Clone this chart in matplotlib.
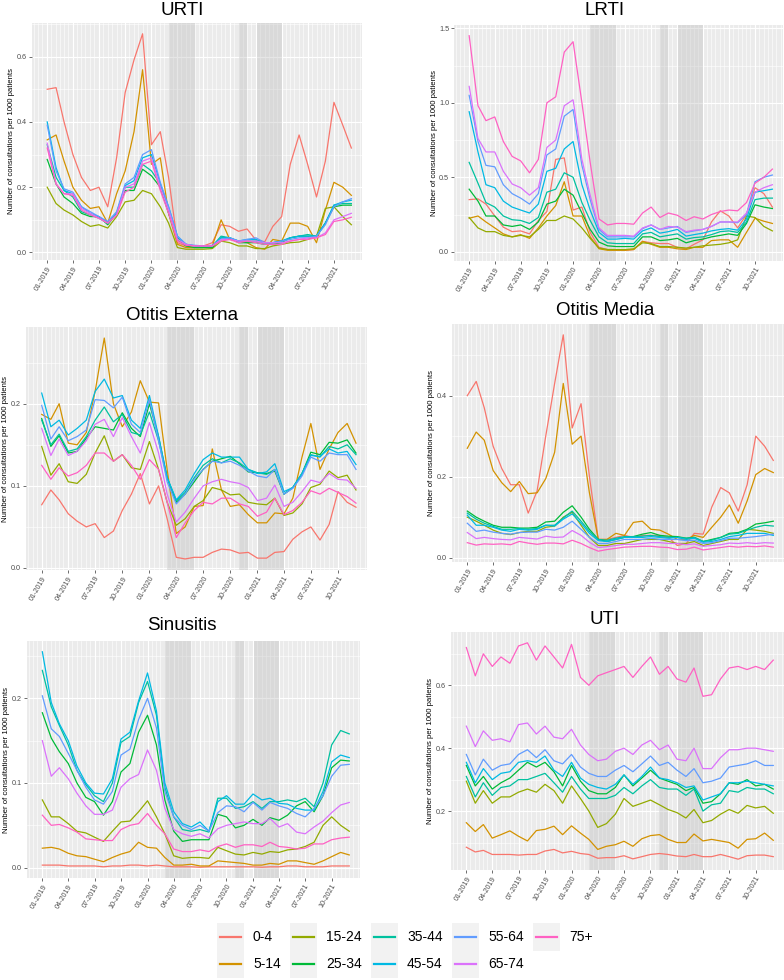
"""Monthly consultation rates by age group, six infection types, with lockdown shading."""
import numpy as np
import pandas as pd
import matplotlib
matplotlib.use('Agg')
from matplotlib import pyplot as plt
import matplotlib.dates as mdates
from matplotlib.ticker import MultipleLocator, FormatStrFormatter, FixedLocator
from matplotlib.patches import Rectangle
from matplotlib.lines import Line2D

plt.rcParams['font.family'] = ['Liberation Sans', 'DejaVu Sans']

# Data (consultations per 1000 patients), Jan 2019 - Dec 2021
months = pd.date_range('2019-01-01', '2021-12-01', freq='MS')
age_groups = ['0-4', '5-14', '15-24', '25-34', '35-44', '45-54', '55-64', '65-74', '75+']
colours = ['#F8766D', '#D39200', '#93AA00', '#00BA38', '#00C19F',
           '#00B9E3', '#619CFF', '#DB72FB', '#FF61C3']
lockdowns = [('2020-03-01', '2020-06-01'), ('2020-11-01', '2020-12-01'),
             ('2021-01-03', '2021-04-01')]

urti = [
    [0.50, 0.505, 0.40, 0.30, 0.23, 0.19, 0.20, 0.14, 0.29, 0.49, 0.59, 0.67, 0.33, 0.37, 0.23, 0.03, 0.02, 0.02, 0.02, 0.03, 0.085, 0.08, 0.065, 0.072, 0.038, 0.033, 0.08, 0.11, 0.27, 0.36, 0.27, 0.17, 0.28, 0.46, 0.39, 0.32],
    [0.345, 0.36, 0.28, 0.20, 0.16, 0.135, 0.14, 0.09, 0.18, 0.25, 0.37, 0.56, 0.27, 0.29, 0.12, 0.025, 0.015, 0.015, 0.015, 0.02, 0.10, 0.04, 0.035, 0.03, 0.015, 0.01, 0.04, 0.035, 0.09, 0.09, 0.08, 0.03, 0.13, 0.215, 0.20, 0.175],
    [0.20, 0.15, 0.13, 0.115, 0.095, 0.08, 0.085, 0.075, 0.11, 0.155, 0.16, 0.19, 0.18, 0.14, 0.09, 0.015, 0.01, 0.01, 0.01, 0.012, 0.035, 0.03, 0.02, 0.02, 0.012, 0.012, 0.02, 0.025, 0.03, 0.032, 0.04, 0.05, 0.135, 0.14, 0.11, 0.085],
    [0.285, 0.21, 0.17, 0.15, 0.12, 0.11, 0.11, 0.085, 0.12, 0.19, 0.19, 0.255, 0.235, 0.20, 0.12, 0.04, 0.02, 0.015, 0.015, 0.015, 0.045, 0.045, 0.03, 0.03, 0.03, 0.025, 0.025, 0.03, 0.045, 0.05, 0.05, 0.05, 0.09, 0.14, 0.145, 0.145],
    [0.33, 0.23, 0.19, 0.17, 0.125, 0.115, 0.105, 0.09, 0.12, 0.20, 0.20, 0.27, 0.25, 0.21, 0.13, 0.045, 0.025, 0.02, 0.02, 0.02, 0.05, 0.045, 0.035, 0.035, 0.035, 0.03, 0.03, 0.035, 0.045, 0.05, 0.055, 0.05, 0.09, 0.145, 0.15, 0.15],
    [0.40, 0.26, 0.19, 0.18, 0.14, 0.12, 0.11, 0.09, 0.12, 0.205, 0.22, 0.29, 0.30, 0.21, 0.14, 0.05, 0.025, 0.02, 0.02, 0.02, 0.045, 0.045, 0.035, 0.04, 0.04, 0.03, 0.03, 0.035, 0.045, 0.05, 0.05, 0.05, 0.09, 0.145, 0.155, 0.16],
    [0.39, 0.25, 0.195, 0.185, 0.14, 0.125, 0.11, 0.095, 0.125, 0.21, 0.23, 0.30, 0.315, 0.215, 0.14, 0.05, 0.025, 0.022, 0.02, 0.022, 0.04, 0.045, 0.035, 0.04, 0.045, 0.03, 0.03, 0.035, 0.04, 0.045, 0.045, 0.05, 0.085, 0.14, 0.155, 0.165],
    [0.335, 0.21, 0.18, 0.18, 0.135, 0.12, 0.105, 0.09, 0.115, 0.20, 0.21, 0.28, 0.29, 0.20, 0.13, 0.04, 0.025, 0.02, 0.02, 0.02, 0.04, 0.04, 0.035, 0.035, 0.035, 0.03, 0.03, 0.03, 0.035, 0.04, 0.045, 0.045, 0.06, 0.10, 0.11, 0.12],
    [0.32, 0.21, 0.18, 0.175, 0.13, 0.115, 0.105, 0.09, 0.115, 0.185, 0.20, 0.27, 0.28, 0.19, 0.12, 0.035, 0.022, 0.02, 0.02, 0.02, 0.035, 0.04, 0.03, 0.035, 0.03, 0.025, 0.025, 0.025, 0.035, 0.04, 0.04, 0.045, 0.055, 0.095, 0.10, 0.108],
]

lrti = [
    [0.35, 0.355, 0.32, 0.24, 0.165, 0.135, 0.14, 0.12, 0.21, 0.27, 0.62, 0.63, 0.28, 0.30, 0.13, 0.03, 0.015, 0.01, 0.01, 0.015, 0.07, 0.06, 0.055, 0.055, 0.03, 0.02, 0.05, 0.08, 0.20, 0.275, 0.24, 0.16, 0.25, 0.43, 0.39, 0.30],
    [0.225, 0.24, 0.20, 0.16, 0.12, 0.10, 0.115, 0.09, 0.16, 0.24, 0.31, 0.47, 0.24, 0.24, 0.10, 0.02, 0.01, 0.01, 0.01, 0.015, 0.07, 0.05, 0.03, 0.03, 0.02, 0.015, 0.03, 0.03, 0.075, 0.08, 0.08, 0.03, 0.13, 0.225, 0.205, 0.19],
    [0.23, 0.16, 0.135, 0.135, 0.11, 0.10, 0.11, 0.10, 0.15, 0.21, 0.21, 0.24, 0.22, 0.16, 0.09, 0.025, 0.015, 0.015, 0.015, 0.02, 0.06, 0.055, 0.035, 0.035, 0.03, 0.025, 0.03, 0.04, 0.045, 0.05, 0.06, 0.08, 0.24, 0.23, 0.17, 0.14],
    [0.42, 0.34, 0.24, 0.24, 0.18, 0.17, 0.18, 0.15, 0.20, 0.32, 0.34, 0.42, 0.38, 0.26, 0.15, 0.065, 0.04, 0.035, 0.035, 0.035, 0.10, 0.10, 0.075, 0.08, 0.09, 0.06, 0.075, 0.085, 0.10, 0.11, 0.12, 0.11, 0.19, 0.315, 0.30, 0.29],
    [0.60, 0.46, 0.33, 0.30, 0.24, 0.215, 0.21, 0.19, 0.23, 0.40, 0.42, 0.53, 0.50, 0.33, 0.21, 0.10, 0.06, 0.055, 0.055, 0.055, 0.12, 0.13, 0.10, 0.11, 0.12, 0.085, 0.095, 0.10, 0.115, 0.135, 0.14, 0.13, 0.20, 0.35, 0.36, 0.36],
    [0.94, 0.67, 0.45, 0.43, 0.34, 0.30, 0.28, 0.26, 0.32, 0.54, 0.56, 0.69, 0.74, 0.45, 0.28, 0.13, 0.085, 0.085, 0.09, 0.085, 0.14, 0.16, 0.125, 0.135, 0.15, 0.105, 0.115, 0.125, 0.14, 0.15, 0.155, 0.145, 0.22, 0.40, 0.41, 0.42],
    [1.05, 0.74, 0.58, 0.57, 0.45, 0.39, 0.36, 0.32, 0.39, 0.65, 0.69, 0.91, 0.955, 0.58, 0.35, 0.15, 0.10, 0.10, 0.10, 0.10, 0.155, 0.18, 0.15, 0.16, 0.17, 0.13, 0.14, 0.15, 0.17, 0.20, 0.20, 0.195, 0.25, 0.47, 0.50, 0.515],
    [1.11, 0.76, 0.67, 0.67, 0.54, 0.455, 0.43, 0.38, 0.43, 0.70, 0.75, 0.98, 1.02, 0.62, 0.38, 0.16, 0.11, 0.11, 0.11, 0.105, 0.16, 0.18, 0.15, 0.17, 0.165, 0.135, 0.145, 0.15, 0.17, 0.20, 0.20, 0.20, 0.26, 0.40, 0.43, 0.45],
    [1.45, 0.98, 0.88, 0.905, 0.74, 0.64, 0.61, 0.53, 0.62, 1.00, 1.04, 1.34, 1.41, 1.00, 0.60, 0.22, 0.18, 0.19, 0.19, 0.185, 0.26, 0.30, 0.23, 0.26, 0.245, 0.21, 0.235, 0.22, 0.25, 0.27, 0.28, 0.275, 0.33, 0.46, 0.50, 0.555],
]

otitis_externa = [
    [0.077, 0.095, 0.083, 0.066, 0.057, 0.050, 0.054, 0.037, 0.045, 0.070, 0.090, 0.115, 0.078, 0.100, 0.060, 0.013, 0.011, 0.013, 0.013, 0.019, 0.023, 0.022, 0.018, 0.019, 0.012, 0.012, 0.019, 0.020, 0.035, 0.044, 0.050, 0.034, 0.053, 0.093, 0.080, 0.074],
    [0.187, 0.181, 0.200, 0.152, 0.150, 0.165, 0.215, 0.280, 0.200, 0.172, 0.190, 0.228, 0.202, 0.201, 0.120, 0.042, 0.050, 0.075, 0.076, 0.145, 0.095, 0.075, 0.077, 0.065, 0.055, 0.055, 0.067, 0.066, 0.085, 0.135, 0.176, 0.120, 0.145, 0.165, 0.176, 0.152],
    [0.148, 0.113, 0.127, 0.105, 0.103, 0.114, 0.140, 0.161, 0.130, 0.138, 0.122, 0.120, 0.154, 0.120, 0.080, 0.052, 0.060, 0.075, 0.082, 0.098, 0.095, 0.089, 0.090, 0.080, 0.078, 0.077, 0.085, 0.064, 0.067, 0.078, 0.098, 0.102, 0.118, 0.110, 0.113, 0.095],
    [0.182, 0.148, 0.161, 0.140, 0.142, 0.158, 0.172, 0.170, 0.168, 0.189, 0.170, 0.160, 0.200, 0.160, 0.110, 0.080, 0.090, 0.105, 0.120, 0.130, 0.133, 0.136, 0.127, 0.117, 0.116, 0.115, 0.118, 0.090, 0.098, 0.115, 0.141, 0.138, 0.153, 0.152, 0.156, 0.140],
    [0.180, 0.150, 0.163, 0.142, 0.145, 0.160, 0.180, 0.196, 0.178, 0.187, 0.165, 0.162, 0.190, 0.155, 0.110, 0.082, 0.092, 0.110, 0.125, 0.133, 0.128, 0.133, 0.128, 0.120, 0.116, 0.114, 0.120, 0.090, 0.098, 0.115, 0.138, 0.135, 0.148, 0.145, 0.150, 0.138],
    [0.213, 0.172, 0.180, 0.162, 0.170, 0.180, 0.215, 0.230, 0.207, 0.210, 0.180, 0.170, 0.210, 0.160, 0.110, 0.083, 0.095, 0.115, 0.132, 0.140, 0.135, 0.135, 0.135, 0.120, 0.115, 0.117, 0.127, 0.093, 0.098, 0.115, 0.137, 0.136, 0.145, 0.140, 0.142, 0.126],
    [0.198, 0.157, 0.172, 0.155, 0.160, 0.168, 0.205, 0.204, 0.195, 0.208, 0.175, 0.165, 0.205, 0.155, 0.105, 0.078, 0.090, 0.108, 0.120, 0.130, 0.128, 0.130, 0.125, 0.118, 0.112, 0.110, 0.120, 0.090, 0.097, 0.112, 0.135, 0.130, 0.140, 0.138, 0.138, 0.120],
    [0.170, 0.137, 0.157, 0.137, 0.142, 0.155, 0.175, 0.181, 0.160, 0.183, 0.160, 0.140, 0.177, 0.140, 0.090, 0.056, 0.068, 0.085, 0.100, 0.105, 0.108, 0.105, 0.103, 0.098, 0.082, 0.085, 0.101, 0.075, 0.080, 0.093, 0.107, 0.104, 0.115, 0.108, 0.107, 0.097],
    [0.125, 0.108, 0.122, 0.112, 0.116, 0.125, 0.140, 0.140, 0.130, 0.138, 0.125, 0.108, 0.132, 0.120, 0.080, 0.037, 0.055, 0.070, 0.080, 0.078, 0.085, 0.085, 0.078, 0.075, 0.063, 0.068, 0.085, 0.065, 0.070, 0.080, 0.094, 0.090, 0.097, 0.092, 0.087, 0.079],
]

otitis_media = [
    [0.40, 0.435, 0.37, 0.275, 0.22, 0.18, 0.18, 0.11, 0.165, 0.30, 0.43, 0.55, 0.32, 0.38, 0.20, 0.045, 0.045, 0.05, 0.055, 0.05, 0.055, 0.055, 0.055, 0.05, 0.03, 0.035, 0.06, 0.058, 0.125, 0.173, 0.16, 0.115, 0.18, 0.30, 0.275, 0.24],
    [0.27, 0.31, 0.29, 0.215, 0.185, 0.163, 0.188, 0.158, 0.16, 0.195, 0.26, 0.43, 0.28, 0.30, 0.16, 0.045, 0.045, 0.06, 0.055, 0.087, 0.09, 0.07, 0.068, 0.058, 0.045, 0.045, 0.055, 0.05, 0.075, 0.10, 0.13, 0.085, 0.14, 0.205, 0.22, 0.21],
    [0.10, 0.09, 0.08, 0.068, 0.06, 0.057, 0.062, 0.065, 0.065, 0.075, 0.078, 0.10, 0.112, 0.08, 0.05, 0.03, 0.03, 0.035, 0.035, 0.04, 0.045, 0.045, 0.045, 0.04, 0.035, 0.035, 0.04, 0.03, 0.035, 0.04, 0.045, 0.045, 0.07, 0.068, 0.065, 0.06],
    [0.115, 0.10, 0.09, 0.08, 0.075, 0.075, 0.073, 0.073, 0.075, 0.088, 0.09, 0.112, 0.128, 0.10, 0.07, 0.045, 0.04, 0.045, 0.05, 0.052, 0.058, 0.062, 0.055, 0.053, 0.052, 0.048, 0.05, 0.04, 0.045, 0.05, 0.06, 0.062, 0.07, 0.083, 0.086, 0.09],
    [0.11, 0.095, 0.085, 0.077, 0.07, 0.07, 0.072, 0.07, 0.072, 0.08, 0.08, 0.098, 0.115, 0.09, 0.065, 0.045, 0.043, 0.048, 0.052, 0.052, 0.053, 0.055, 0.052, 0.05, 0.05, 0.048, 0.05, 0.04, 0.043, 0.05, 0.058, 0.06, 0.068, 0.075, 0.08, 0.078],
    [0.105, 0.08, 0.08, 0.075, 0.068, 0.065, 0.07, 0.068, 0.07, 0.08, 0.078, 0.095, 0.108, 0.085, 0.06, 0.042, 0.04, 0.045, 0.05, 0.05, 0.05, 0.052, 0.05, 0.048, 0.05, 0.045, 0.048, 0.038, 0.04, 0.045, 0.052, 0.055, 0.06, 0.06, 0.06, 0.055],
    [0.085, 0.065, 0.068, 0.063, 0.06, 0.058, 0.062, 0.063, 0.063, 0.07, 0.068, 0.075, 0.09, 0.07, 0.05, 0.035, 0.035, 0.04, 0.045, 0.045, 0.045, 0.048, 0.045, 0.045, 0.045, 0.042, 0.043, 0.035, 0.037, 0.042, 0.048, 0.048, 0.05, 0.052, 0.055, 0.058],
    [0.062, 0.047, 0.05, 0.047, 0.045, 0.044, 0.05, 0.048, 0.046, 0.053, 0.05, 0.051, 0.067, 0.055, 0.038, 0.025, 0.027, 0.03, 0.033, 0.033, 0.035, 0.037, 0.037, 0.035, 0.035, 0.032, 0.034, 0.028, 0.03, 0.032, 0.036, 0.035, 0.037, 0.035, 0.037, 0.036],
    [0.037, 0.031, 0.034, 0.033, 0.034, 0.032, 0.04, 0.036, 0.033, 0.036, 0.036, 0.034, 0.043, 0.035, 0.025, 0.016, 0.02, 0.023, 0.026, 0.027, 0.028, 0.028, 0.026, 0.025, 0.02, 0.021, 0.026, 0.019, 0.022, 0.025, 0.028, 0.026, 0.028, 0.027, 0.029, 0.026],
]

sinusitis = [
    [0.003, 0.003, 0.003, 0.002, 0.002, 0.002, 0.002, 0.001, 0.002, 0.002, 0.003, 0.003, 0.002, 0.003, 0.002, 0.001, 0.001, 0.001, 0.0005, 0.001, 0.001, 0.001, 0.001, 0.001, 0.001, 0.0005, 0.001, 0.001, 0.002, 0.002, 0.001, 0.001, 0.001, 0.002, 0.002, 0.002],
    [0.023, 0.024, 0.022, 0.017, 0.014, 0.013, 0.010, 0.007, 0.012, 0.016, 0.019, 0.030, 0.024, 0.023, 0.012, 0.003, 0.003, 0.004, 0.002, 0.002, 0.008, 0.007, 0.006, 0.005, 0.003, 0.003, 0.005, 0.004, 0.008, 0.008, 0.006, 0.004, 0.008, 0.013, 0.018, 0.015],
    [0.080, 0.060, 0.060, 0.052, 0.043, 0.041, 0.036, 0.031, 0.043, 0.054, 0.055, 0.066, 0.079, 0.060, 0.040, 0.014, 0.011, 0.012, 0.012, 0.011, 0.024, 0.020, 0.016, 0.015, 0.018, 0.016, 0.019, 0.018, 0.021, 0.022, 0.025, 0.030, 0.050, 0.060, 0.050, 0.043],
    [0.183, 0.153, 0.137, 0.123, 0.100, 0.083, 0.078, 0.062, 0.078, 0.113, 0.123, 0.160, 0.180, 0.145, 0.080, 0.043, 0.031, 0.033, 0.033, 0.033, 0.063, 0.060, 0.047, 0.050, 0.057, 0.050, 0.059, 0.056, 0.062, 0.073, 0.078, 0.066, 0.085, 0.118, 0.127, 0.126],
    [0.233, 0.190, 0.168, 0.145, 0.115, 0.098, 0.085, 0.078, 0.100, 0.148, 0.155, 0.195, 0.220, 0.180, 0.095, 0.060, 0.045, 0.043, 0.045, 0.042, 0.082, 0.082, 0.070, 0.072, 0.078, 0.070, 0.078, 0.078, 0.080, 0.078, 0.082, 0.072, 0.100, 0.145, 0.162, 0.158],
    [0.255, 0.195, 0.170, 0.150, 0.120, 0.100, 0.088, 0.087, 0.105, 0.152, 0.160, 0.197, 0.230, 0.185, 0.100, 0.066, 0.052, 0.048, 0.054, 0.043, 0.078, 0.085, 0.075, 0.075, 0.087, 0.080, 0.082, 0.076, 0.075, 0.070, 0.068, 0.068, 0.090, 0.125, 0.133, 0.130],
    [0.203, 0.164, 0.155, 0.135, 0.115, 0.095, 0.080, 0.075, 0.090, 0.133, 0.140, 0.175, 0.200, 0.165, 0.090, 0.060, 0.050, 0.045, 0.050, 0.043, 0.065, 0.073, 0.072, 0.066, 0.077, 0.068, 0.077, 0.073, 0.070, 0.064, 0.060, 0.070, 0.085, 0.108, 0.121, 0.122],
    [0.150, 0.108, 0.118, 0.105, 0.088, 0.073, 0.063, 0.063, 0.068, 0.095, 0.105, 0.110, 0.139, 0.115, 0.070, 0.045, 0.040, 0.037, 0.040, 0.035, 0.046, 0.050, 0.052, 0.054, 0.052, 0.052, 0.058, 0.048, 0.052, 0.042, 0.040, 0.048, 0.055, 0.065, 0.074, 0.077],
    [0.062, 0.050, 0.051, 0.047, 0.042, 0.034, 0.033, 0.032, 0.032, 0.045, 0.050, 0.052, 0.064, 0.050, 0.040, 0.022, 0.019, 0.019, 0.021, 0.019, 0.025, 0.028, 0.024, 0.027, 0.027, 0.025, 0.030, 0.025, 0.024, 0.022, 0.023, 0.028, 0.028, 0.033, 0.035, 0.036],
]

uti = [
    [0.085, 0.07, 0.075, 0.062, 0.062, 0.062, 0.06, 0.062, 0.062, 0.073, 0.078, 0.067, 0.072, 0.065, 0.062, 0.05, 0.052, 0.052, 0.058, 0.048, 0.055, 0.062, 0.065, 0.062, 0.057, 0.055, 0.062, 0.055, 0.055, 0.062, 0.055, 0.047, 0.058, 0.06, 0.06, 0.055],
    [0.163, 0.135, 0.157, 0.114, 0.125, 0.137, 0.12, 0.105, 0.138, 0.142, 0.152, 0.125, 0.153, 0.13, 0.11, 0.078, 0.088, 0.093, 0.104, 0.088, 0.112, 0.122, 0.125, 0.11, 0.10, 0.10, 0.127, 0.105, 0.11, 0.105, 0.10, 0.082, 0.11, 0.112, 0.13, 0.107],
    [0.295, 0.225, 0.265, 0.225, 0.245, 0.245, 0.26, 0.27, 0.26, 0.285, 0.265, 0.225, 0.28, 0.24, 0.20, 0.148, 0.16, 0.19, 0.24, 0.215, 0.225, 0.235, 0.22, 0.205, 0.195, 0.178, 0.205, 0.163, 0.17, 0.19, 0.205, 0.193, 0.218, 0.21, 0.215, 0.193],
    [0.345, 0.28, 0.31, 0.27, 0.29, 0.305, 0.33, 0.355, 0.34, 0.355, 0.325, 0.28, 0.345, 0.295, 0.265, 0.255, 0.255, 0.275, 0.315, 0.28, 0.305, 0.33, 0.305, 0.295, 0.285, 0.265, 0.275, 0.225, 0.23, 0.255, 0.29, 0.285, 0.30, 0.28, 0.285, 0.27],
    [0.31, 0.245, 0.29, 0.25, 0.275, 0.28, 0.30, 0.30, 0.31, 0.32, 0.29, 0.26, 0.31, 0.27, 0.24, 0.24, 0.24, 0.25, 0.275, 0.255, 0.28, 0.30, 0.275, 0.27, 0.27, 0.25, 0.27, 0.20, 0.22, 0.225, 0.265, 0.26, 0.275, 0.27, 0.27, 0.255],
    [0.355, 0.29, 0.335, 0.30, 0.32, 0.325, 0.355, 0.36, 0.355, 0.375, 0.33, 0.31, 0.355, 0.305, 0.285, 0.275, 0.27, 0.285, 0.315, 0.285, 0.31, 0.34, 0.305, 0.30, 0.29, 0.275, 0.28, 0.235, 0.245, 0.255, 0.29, 0.29, 0.295, 0.29, 0.285, 0.28],
    [0.38, 0.315, 0.365, 0.33, 0.345, 0.35, 0.38, 0.395, 0.37, 0.395, 0.36, 0.35, 0.38, 0.34, 0.32, 0.31, 0.31, 0.33, 0.345, 0.325, 0.35, 0.375, 0.345, 0.355, 0.33, 0.31, 0.335, 0.29, 0.295, 0.305, 0.34, 0.345, 0.35, 0.36, 0.345, 0.345],
    [0.47, 0.405, 0.455, 0.425, 0.43, 0.42, 0.475, 0.48, 0.445, 0.47, 0.435, 0.43, 0.46, 0.41, 0.38, 0.36, 0.365, 0.39, 0.40, 0.38, 0.41, 0.425, 0.395, 0.41, 0.365, 0.36, 0.40, 0.335, 0.335, 0.37, 0.395, 0.395, 0.40, 0.40, 0.395, 0.39],
    [0.72, 0.63, 0.70, 0.66, 0.69, 0.67, 0.725, 0.735, 0.68, 0.725, 0.69, 0.655, 0.73, 0.625, 0.60, 0.63, 0.64, 0.65, 0.66, 0.625, 0.66, 0.69, 0.635, 0.66, 0.62, 0.61, 0.655, 0.565, 0.57, 0.62, 0.655, 0.66, 0.65, 0.66, 0.65, 0.68],
]

# Layout, in pixels of the 784x980 output
W, H = 784, 980
panels = [
    # title, values, y step, (left, top, right, bottom), title (x, baseline), ylabel x
    ('URTI', urti, 0.2, (32, 23, 362, 260), (182, 15), 12),
    ('LRTI', lrti, 0.5, (454, 25, 783, 261), (605, 15), 435),
    ('Otitis Externa', otitis_externa, 0.1, (26, 327, 367, 570), (182, 320), 6),
    ('Otitis Media', otitis_media, 0.2, (452, 324, 784, 562), (605, 315), 432),
    ('Sinusitis', sinusitis, 0.1, (27, 641, 360, 878), (182, 630), 7),
    ('UTI', uti, 0.2, (451, 632, 784, 870), (605, 624), 431),
]

fig = plt.figure(figsize=(W / 100, H / 100), dpi=100)
fig.patch.set_facecolor('white')

xnum = mdates.date2num(months)
span = xnum[-1] - xnum[0]
xlo, xhi = xnum[0] - 0.05 * span, xnum[-1] + 0.035 * span
xmajor = xnum[::3]

for title, values, ystep, (l, t, r, b), (tx, ty), ylx in panels:
    ax = fig.add_axes([l / W, 1 - b / H, (r - l) / W, (b - t) / H])
    ax.set_facecolor('#EBEBEB')
    for sp in ax.spines.values():
        sp.set_visible(False)

    # Lockdown periods
    for start, end in lockdowns:
        ax.axvspan(pd.Timestamp(start), pd.Timestamp(end), color='#BEBEBE',
                   alpha=0.38, lw=0, zorder=1)

    for kk, age in enumerate(age_groups):
        ax.plot(months, values[kk], color=colours[kk], lw=0.9, zorder=2)

    # Axes
    ax.xaxis.set_major_locator(FixedLocator(xmajor))
    ax.xaxis.set_major_formatter(mdates.DateFormatter('%m-%Y'))
    ax.xaxis.set_minor_locator(mdates.DayLocator(bymonthday=[1, 15]))
    ax.yaxis.set_major_locator(MultipleLocator(ystep))
    ax.yaxis.set_minor_locator(MultipleLocator(ystep / 2))
    ax.yaxis.set_major_formatter(FormatStrFormatter('%.1f'))
    ax.set_xlim(xlo, xhi)
    ax.set_axisbelow(True)
    ax.grid(which='major', color='white', lw=0.8)
    ax.grid(which='minor', color='white', lw=0.4)
    ax.tick_params(which='major', length=2, width=0.5, color='#333333',
                   labelsize=5.2, labelcolor='#4D4D4D', pad=1.5)
    ax.tick_params(which='minor', length=0)
    for lbl in ax.get_xticklabels():
        lbl.set_rotation(60)
        lbl.set_ha('right')
        lbl.set_rotation_mode('anchor')

    fig.text(tx / W, 1 - ty / H, title, ha='center', va='baseline', fontsize=13.5)
    fig.text(ylx / W, 1 - (t + b) / 2 / H, 'Number of consultations per 1000 patients',
             rotation=90, ha='center', va='center', fontsize=5.6)

# Legend (ggplot style, bottom centre)
lax = fig.add_axes([0, 0, 1, 1])
lax.set_xlim(0, W)
lax.set_ylim(H, 0)
lax.axis('off')
col_left = [217, 290, 371, 452, 533]
row_y = [936.5, 964]
for cc, x0 in enumerate(col_left):
    nrows = 2 if cc < 4 else 1
    lax.add_patch(Rectangle((x0, 923), 27, 27.5 * nrows, facecolor='#F2F2F2',
                            edgecolor='none'))
    for rr in range(nrows):
        kk = cc * 2 + rr
        lax.add_line(Line2D([x0 + 3, x0 + 24], [row_y[rr], row_y[rr]],
                            color=colours[kk], lw=1.6))
        lax.text(x0 + 36, row_y[rr], age_groups[kk], ha='left', va='center',
                 fontsize=10)

fig.savefig('out.png', dpi=100)
plt.close(fig)
